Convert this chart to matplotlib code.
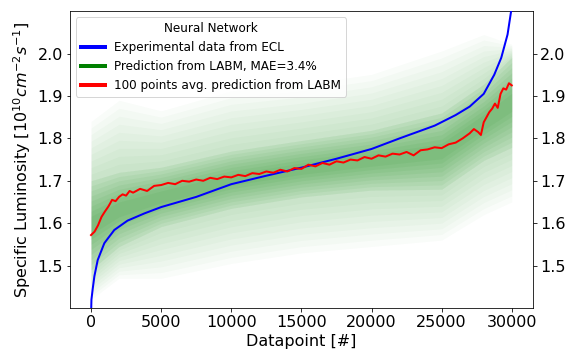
import matplotlib
matplotlib.use("Agg")
import matplotlib.pyplot as plt
import numpy as np

# Experimental data (sorted) - blue
blue_x = [0, 30, 120, 240, 475, 950, 1660, 2600, 3800, 5000, 7500, 10000, 12500,
          15000, 17500, 20000, 22000, 24500, 26000, 27000, 28000, 28750, 29250,
          29700, 30000]
blue_y = [1.38, 1.42, 1.445, 1.475, 1.513, 1.553, 1.584, 1.606, 1.623, 1.638,
          1.662, 1.692, 1.712, 1.731, 1.752, 1.775, 1.800, 1.830, 1.855, 1.875,
          1.905, 1.950, 1.990, 2.045, 2.11]

# 100 points moving average - red
red_x = [0, 250, 500, 750, 1000, 1250, 1500, 1750, 2000, 2250, 2500, 2750, 3000,
         3500, 4000, 4500, 5000, 5500, 6000, 6500, 7000, 7500, 8000, 8500, 9000,
         9500, 10000, 10500, 11000, 11500, 12000, 12500, 13000, 13500, 14000,
         14500, 15000, 15500, 16000, 16500, 17000, 17500, 18000, 18500, 19000,
         19500, 20000, 20500, 21000, 21500, 22000, 22500, 23000, 23500, 24000,
         24500, 25000, 25500, 26000, 26500, 27000, 27300, 27600, 27800, 28000,
         28200, 28400, 28600, 28800, 29000, 29200, 29400, 29600, 29800, 30000]
red_y = [1.572, 1.580, 1.595, 1.615, 1.628, 1.640, 1.655, 1.652, 1.662, 1.668,
         1.665, 1.676, 1.672, 1.681, 1.676, 1.688, 1.690, 1.695, 1.692, 1.700,
         1.698, 1.703, 1.700, 1.707, 1.704, 1.710, 1.708, 1.714, 1.711, 1.718,
         1.716, 1.722, 1.719, 1.726, 1.722, 1.730, 1.728, 1.738, 1.734, 1.742,
         1.738, 1.746, 1.743, 1.750, 1.748, 1.756, 1.752, 1.760, 1.757, 1.764,
         1.762, 1.768, 1.760, 1.772, 1.774, 1.779, 1.777, 1.786, 1.790, 1.800,
         1.812, 1.822, 1.815, 1.808, 1.838, 1.850, 1.862, 1.870, 1.882, 1.872,
         1.905, 1.918, 1.915, 1.930, 1.925]

# Prediction spread - green (dense core and faint outer envelope)
green_x = [0, 2000, 5000, 10000, 15000, 20000, 25000, 28000, 30000]
green_inner_lo = [1.49, 1.545, 1.592, 1.635, 1.662, 1.678, 1.68, 1.748, 1.779]
green_inner_hi = [1.70, 1.72, 1.732, 1.77, 1.795, 1.819, 1.86, 1.928, 1.991]
green_outer_lo = [1.42, 1.47, 1.47, 1.505, 1.53, 1.545, 1.56, 1.62, 1.65]
green_outer_hi = [1.84, 1.89, 1.865, 1.912, 1.927, 1.951, 2.006, 2.045, 2.022]

fig = plt.figure(figsize=(8, 5), dpi=72)
ax = fig.add_axes([0.1215, 0.1444, 0.8035, 0.8246])

gx = np.array(green_x)
ilo, ihi = np.array(green_inner_lo), np.array(green_inner_hi)
olo, ohi = np.array(green_outer_lo), np.array(green_outer_hi)
# soft gradient from faint outer envelope to dense core
for t in np.linspace(0, 1, 10):
    lo = olo + (ilo - olo) * t
    hi = ohi + (ihi - ohi) * t
    ax.fill_between(gx, lo, hi, color='green', alpha=0.025, lw=0)
mid = (ilo + ihi) / 2
for t in np.linspace(0, 0.8, 8):
    lo = ilo + (mid - ilo) * t
    hi = ihi + (mid - ihi) * t
    ax.fill_between(gx, lo, hi, color='green', alpha=0.05, lw=0)

ax.plot(blue_x, blue_y, color='blue', lw=2, label='Experimental data from ECL', zorder=3)
ax.plot([], [], color='green', lw=4, label='Prediction from LABM, MAE=3.4%')
ax.plot(red_x, red_y, color='red', lw=2, label='100 points avg. prediction from LABM', zorder=4)

ax.set_xlim(-1500, 31500)
ax.set_ylim(1.4, 2.1)
ax.set_yticks([1.5, 1.6, 1.7, 1.8, 1.9, 2.0])
ax.set_xticks([0, 5000, 10000, 15000, 20000, 25000, 30000])
ax.tick_params(labelsize=16, right=True, labelright=True)
ax.set_xlabel('Datapoint [#]', fontsize=16)
ax.set_ylabel(r'Specific Luminosity [$10^{10}cm^{-2}s^{-1}$]', fontsize=16)

leg = ax.legend(loc='upper left', title='Neural Network', fontsize=12,
                title_fontsize=12)
for l in leg.get_lines():
    l.set_linewidth(4)

fig.savefig('out.png', dpi=72)
